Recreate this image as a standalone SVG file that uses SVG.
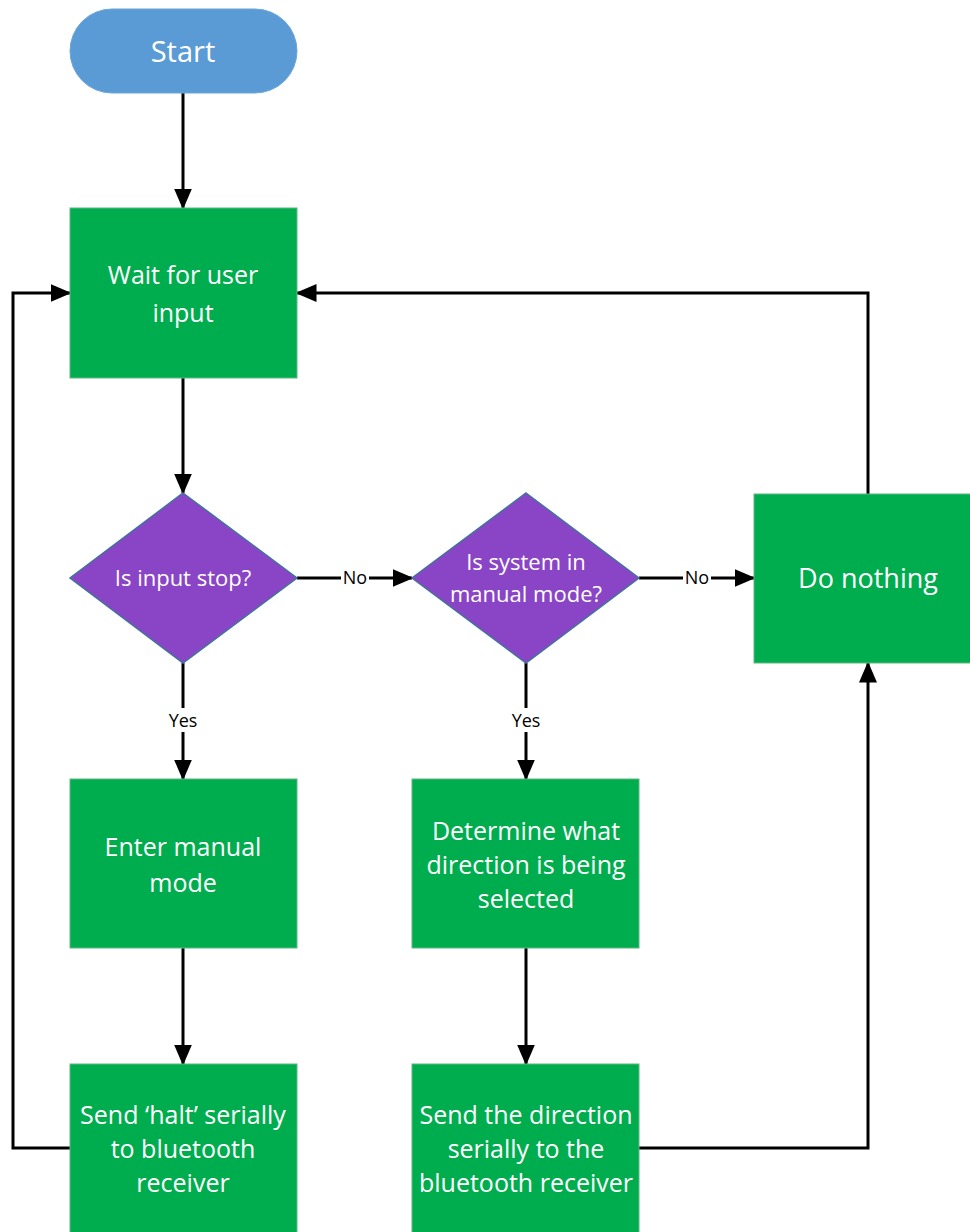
<svg xmlns="http://www.w3.org/2000/svg" width="970" height="1232" viewBox="0 0 970 1232">
<style>
.box{fill:#00ad4e;stroke:#5fb880;stroke-width:1}
.dia{fill:#8a45c6;stroke:#41719c;stroke-width:1.5}
.start{fill:#5b9bd5;stroke:#6aa5da;stroke-width:1}
.t{font-family:"Open Sans","Liberation Sans",sans-serif;font-size:25px;fill:#ffffff;text-anchor:middle}
.td{font-family:"Open Sans","Liberation Sans",sans-serif;font-size:22px;fill:#ffffff;text-anchor:middle}
.c{fill:none;stroke:#000;stroke-width:3}
.lbl{font-family:"Open Sans","Liberation Sans",sans-serif;font-size:18px;fill:#000;text-anchor:middle}
.lb{fill:#fff}
</style>
<defs>
<marker id="ah" markerWidth="7" markerHeight="6" refX="6.5" refY="3" orient="auto" markerUnits="strokeWidth">
<path d="M0,0 L7,3 L0,6 Z" fill="#000"/>
</marker>
</defs>
<rect width="970" height="1232" fill="#ffffff"/>
<g id="connectors">
<path class="c" d="M183,93 V208" marker-end="url(#ah)"/>
<path class="c" d="M183,378 V493" marker-end="url(#ah)"/>
<path class="c" d="M297,578 H412" marker-end="url(#ah)"/>
<path class="c" d="M639,578 H754" marker-end="url(#ah)"/>
<path class="c" d="M183,663 V779" marker-end="url(#ah)"/>
<path class="c" d="M526,663 V779" marker-end="url(#ah)"/>
<path class="c" d="M183,948 V1064" marker-end="url(#ah)"/>
<path class="c" d="M526,948 V1064" marker-end="url(#ah)"/>
<path class="c" d="M70,1148 H13 V293 H70" marker-end="url(#ah)"/>
<path class="c" d="M868,494 V293 H297" marker-end="url(#ah)"/>
<path class="c" d="M639,1148 H868 V663" marker-end="url(#ah)"/>
<rect class="lb" x="341" y="566" width="28" height="24"/>
<text class="lbl" x="355" y="584">No</text>
<rect class="lb" x="683" y="566" width="28" height="24"/>
<text class="lbl" x="697" y="584">No</text>
<rect class="lb" x="166" y="708" width="34" height="24"/>
<text class="lbl" x="183" y="727">Yes</text>
<rect class="lb" x="509" y="708" width="34" height="24"/>
<text class="lbl" x="526" y="727">Yes</text>
</g>
<g id="start">
<rect class="start" x="70" y="9" width="227" height="84" rx="42" ry="42"/>
<text class="t" x="183" y="62" style="font-size:29px">Start</text>
</g>
<g id="wait">
<rect class="box" x="70" y="208" width="227" height="170"/>
<text class="t" x="183" y="284">Wait for user</text>
<text class="t" x="183" y="322">input</text>
</g>
<g id="isStop">
<polygon class="dia" points="183,493 297,578 183,663 70,578"/>
<text class="td" x="183" y="586">Is input stop?</text>
</g>
<g id="isManual">
<polygon class="dia" points="526,493 639,578 526,663 412,578"/>
<text class="td" x="526" y="570">Is system in</text>
<text class="td" x="526" y="602">manual mode?</text>
</g>
<g id="doNothing">
<rect class="box" x="754" y="494" width="228" height="169"/>
<text class="t" x="868" y="588" style="font-size:27px">Do nothing</text>
</g>
<g id="enterManual">
<rect class="box" x="70" y="779" width="227" height="169"/>
<text class="t" x="183" y="856">Enter manual</text>
<text class="t" x="183" y="892">mode</text>
</g>
<g id="determine">
<rect class="box" x="412" y="779" width="227" height="169"/>
<text class="t" x="526" y="840">Determine what</text>
<text class="t" x="526" y="874">direction is being</text>
<text class="t" x="526" y="908">selected</text>
</g>
<g id="sendHalt">
<rect class="box" x="70" y="1064" width="227" height="180"/>
<text class="t" x="183" y="1124">Send ‘halt’ serially</text>
<text class="t" x="183" y="1158">to bluetooth</text>
<text class="t" x="183" y="1192">receiver</text>
</g>
<g id="sendDirection">
<rect class="box" x="412" y="1064" width="227" height="180"/>
<text class="t" x="526" y="1124">Send the direction</text>
<text class="t" x="526" y="1158">serially to the</text>
<text class="t" x="526" y="1192">bluetooth receiver</text>
</g>
</svg>
